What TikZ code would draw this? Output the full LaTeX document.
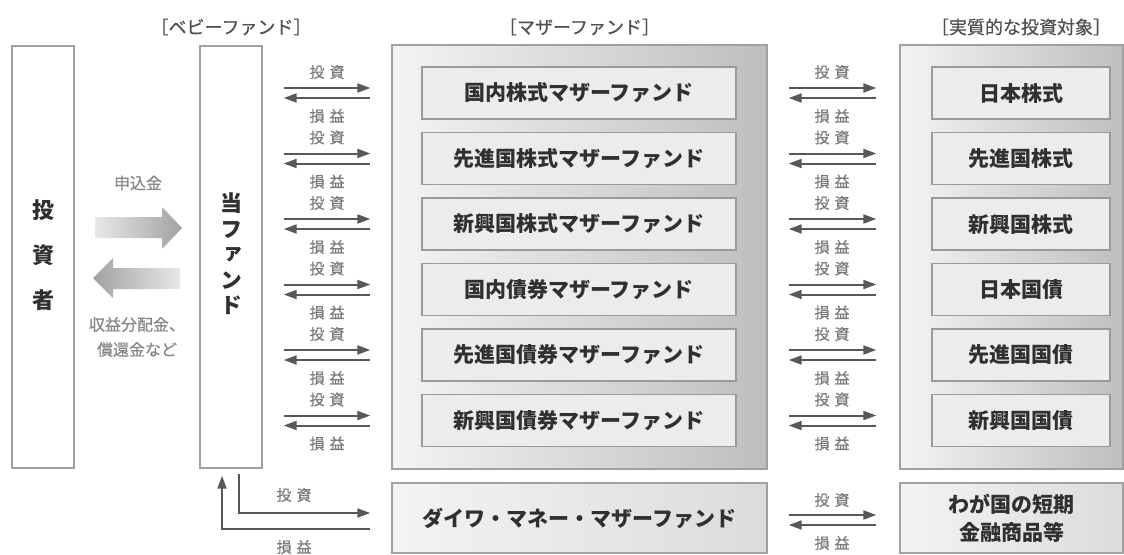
\documentclass[tikz,border=0pt]{standalone}
\usepackage{fontspec}
\setmainfont{Noto Sans CJK JP}
\newfontfamily\vjp[RawFeature=+vert]{Noto Sans CJK JP}
\newfontfamily\medjp[FakeBold=0.6]{Noto Sans CJK JP}
\usetikzlibrary{arrows.meta,calc}
\definecolor{bordergray}{HTML}{A0A0A0}
\definecolor{innergray}{HTML}{9A9A9A}
\definecolor{boxfill}{HTML}{ECECEC}
\definecolor{conngray}{HTML}{585858}
\definecolor{lblgray}{HTML}{7A7A7A}
\definecolor{textdark}{HTML}{303030}
\definecolor{contlight}{HTML}{F4F4F4}
\definecolor{contdark}{HTML}{BEBEBE}
\definecolor{fatlight}{HTML}{E8E8E8}
\definecolor{fatdark}{HTML}{A2A2A2}
\begin{document}
\begin{tikzpicture}[x=1pt,y=-1pt,
  plainbox/.style={draw=bordergray, line width=1.4pt, fill=white, inner sep=0pt, minimum width=62pt, minimum height=422pt},
  container/.style={draw=bordergray, line width=1.4pt, left color=contlight, right color=contdark, inner sep=0pt},
  innerbox/.style={draw=innergray, line width=1.2pt, fill=boxfill, minimum height=52pt, inner sep=0pt, font=\fontsize{21}{24}\selectfont\bfseries, text=textdark},
  bottombox/.style={draw=bordergray, line width=1.4pt, left color=boxfill!60!white, right color=boxfill!85!gray, inner sep=0pt, minimum height=70pt, font=\fontsize{21}{28}\selectfont\bfseries, text=textdark, align=center},
  conn/.style={draw=conngray, line width=2pt},
  tipend/.style={-{Triangle[length=13pt,width=9pt]}},
  tipstart/.style={{Triangle[length=13pt,width=9pt]}-},
  lbl/.style={font=\fontsize{15}{17}\selectfont\medjp, text=lblgray, inner sep=0pt},
  header/.style={font=\fontsize{18}{20}\selectfont\medjp, text=textdark!85, inner sep=0pt},
  sidelbl/.style={font=\fontsize{16}{25}\selectfont\medjp, text=lblgray!90, inner sep=0pt, align=center},
  vtext/.style={font=\fontsize{22}{25.5}\selectfont\bfseries\vjp, text=textdark, align=center, inner sep=0pt}
]
\useasboundingbox (0,0) rectangle (1124,554);

% headers
\node[header] (h1) at (231,27) {［ベビーファンド］};
\node[header] (h2) at (579.5,27) {［マザーファンド］};
\node[header] (h3) at (1021,27) {［実質的な投資対象］};

% investor and baby fund
\node[plainbox] (inv) at (43,257) {};
\node[vtext, font=\fontsize{22}{45}\selectfont\bfseries] (invt) at (43,255) {投\\資\\者};
\node[plainbox] (tou) at (231,257) {};
\node[vtext] (tout) at (231,254) {当\\フ\\ァ\\ン\\ド};

% fat arrows
\shade[left color=fatlight, right color=fatdark]
  (95,217) -- (162,217) -- (162,207) -- (182,228) -- (162,249) -- (162,238) -- (95,238) -- cycle;
\shade[left color=fatdark, right color=fatlight]
  (180,268) -- (113,268) -- (113,258) -- (93,278) -- (113,298) -- (113,289) -- (180,289) -- cycle;
\node[sidelbl] (lin) at (138,183) {申込金};
\node[sidelbl] (lout) at (137,337) {収益分配金、\\償還金など};

% containers
\node[container, minimum width=375pt, minimum height=424pt] (mc) at (579.5,257) {};
\node[container, minimum width=223pt, minimum height=424pt] (rc) at (1011.5,257) {};

\foreach \i/\y/\m/\r in {1/93/国内株式マザーファンド/日本株式,
                         2/158.5/先進国株式マザーファンド/先進国株式,
                         3/224/新興国株式マザーファンド/新興国株式,
                         4/289.5/国内債券マザーファンド/日本国債,
                         5/355/先進国債券マザーファンド/先進国国債,
                         6/420.5/新興国債券マザーファンド/新興国国債} {
  \node[innerbox, minimum width=314pt] (m\i) at (579,\y) {\m};
  \node[innerbox, minimum width=178pt] (r\i) at (1021,\y) {\r};
  % baby -> mother
  \draw[conn, tipend, shorten <=21pt, shorten >=21pt] ($(tou.east|-m\i)+(0,-5)$) -- ($(mc.west|-m\i)+(0,-5)$);
  \draw[conn, tipstart, shorten <=21pt, shorten >=21pt] ($(tou.east|-m\i)+(0,5)$) -- ($(mc.west|-m\i)+(0,5)$);
  \node[lbl] (li\i) at (327,\y-21) {投\hspace{5pt}資};
  \node[lbl] (lp\i) at (327,\y+23) {損\hspace{5pt}益};
  % mother -> assets
  \draw[conn, tipend, shorten <=21pt, shorten >=23pt] ($(mc.east|-m\i)+(0,-5)$) -- ($(rc.west|-m\i)+(0,-5)$);
  \draw[conn, tipstart, shorten <=21pt, shorten >=23pt] ($(mc.east|-m\i)+(0,5)$) -- ($(rc.west|-m\i)+(0,5)$);
  \node[lbl] (ri\i) at (832,\y-21) {投\hspace{5pt}資};
  \node[lbl] (rp\i) at (832,\y+23) {損\hspace{5pt}益};
}

% bottom row
\node[bottombox, minimum width=375pt] (dw) at (579.5,518) {ダイワ・マネー・マザーファンド};
\node[bottombox, minimum width=223pt] (br) at (1011.5,518) {わが国の短期\\金融商品等};

\draw[conn, tipend] ([xshift=8pt,yshift=-5pt]tou.south) |- ($(dw.west)+(-21,-5)$);
\draw[conn, tipend] ($(dw.west)+(-21,11)$) -| ([xshift=-9pt,yshift=-7pt]tou.south);
\node[lbl] (bli) at (294,495) {投\hspace{5pt}資};
\node[lbl] (blp) at (294,547) {損\hspace{5pt}益};

\draw[conn, tipend, shorten <=21pt, shorten >=23pt] ($(dw.east)+(0,-3)$) -- ($(br.west)+(0,-3)$);
\draw[conn, tipstart, shorten <=21pt, shorten >=23pt] ($(dw.east)+(0,7)$) -- ($(br.west)+(0,7)$);
\node[lbl] (bri) at (832,500) {投\hspace{5pt}資};
\node[lbl] (brp) at (832,543) {損\hspace{5pt}益};
\end{tikzpicture}
\end{document}
